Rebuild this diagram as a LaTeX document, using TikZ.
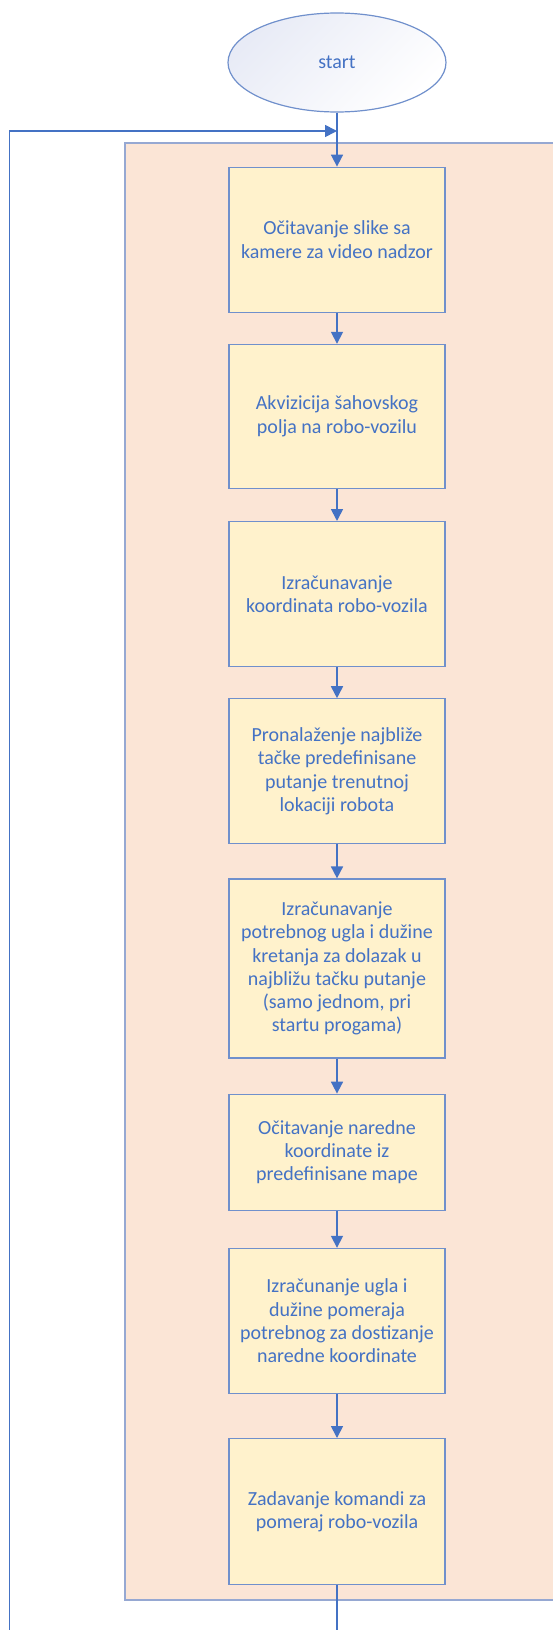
\documentclass[tikz,border=0pt]{standalone}
\usepackage{fontspec}
\setmainfont{Carlito}
\definecolor{flowblue}{RGB}{68,114,196}
\definecolor{boxedge}{RGB}{112,144,204}
\definecolor{loopedge}{RGB}{150,168,210}
\definecolor{softyellow}{RGB}{255,242,204}
\definecolor{softpeach}{RGB}{251,229,214}
\definecolor{paleviolet}{RGB}{232,235,246}
\usetikzlibrary{arrows.meta,positioning,shapes.geometric}

\begin{document}
\begin{tikzpicture}[x=1pt, y=-1pt,
    stepbox/.style={draw=boxedge, line width=1.2pt, fill=softyellow, text=flowblue,
      minimum width=216pt, align=center, inner sep=0pt, font=\fontsize{20}{23.3}\selectfont},
    flow/.style={draw=flowblue, line width=1.7pt, -{Triangle[length=12pt,width=12pt]}}]
  \useasboundingbox (0,0) rectangle (553,1630);
  \fill[softpeach, draw=loopedge, line width=1.2pt] (125,143) rectangle (620,1600);
  \node[ellipse, draw=boxedge, line width=1.2pt, top color=paleviolet, bottom color=white,
        shading angle=45, minimum width=218pt, minimum height=99pt, inner sep=0pt,
        text=flowblue, font=\fontsize{20}{23.3}\selectfont] (start) at (337,62.5) {start};
  \node[stepbox, minimum height=145pt, below=54pt of start] (b1) {Očitavanje slike sa\\kamere za video nadzor};
  \node[stepbox, minimum height=144pt, below=31pt of b1] (b2) {Akvizicija šahovskog\\polja na robo-vozilu};
  \node[stepbox, minimum height=145pt, below=32pt of b2] (b3) {Izračunavanje\\koordinata robo-vozila};
  \node[stepbox, minimum height=145pt, below=31pt of b3] (b4) {Pronalaženje najbliže\\tačke predefinisane\\putanje trenutnoj\\lokaciji robota};
  \node[stepbox, minimum height=179pt, below=34pt of b4] (b5) {Izračunavanje\\potrebnog ugla i dužine\\kretanja za dolazak u\\najbližu tačku putanje\\(samo jednom, pri\\startu progama)};
  \node[stepbox, minimum height=116pt, below=35pt of b5] (b6) {Očitavanje naredne\\koordinate iz\\predefinisane mape};
  \node[stepbox, minimum height=145pt, below=37pt of b6] (b7) {Izračunanje ugla i\\dužine pomeraja\\potrebnog za dostizanje\\naredne koordinate};
  \node[stepbox, minimum height=146pt, below=44pt of b7] (b8) {Zadavanje komandi za\\pomeraj robo-vozila};
  \coordinate (loopin) at (337,131);
  \coordinate (loopdown) at (337,1680);
  \coordinate (loopcorner) at (9.5,1680);
  \draw[flow] (start) -- (b1);
  \foreach \a/\b in {b1/b2,b2/b3,b3/b4,b4/b5,b5/b6,b6/b7,b7/b8}
    \draw[flow] (\a) -- (\b);
  \draw[flow] (b8.south) -- (loopdown) -- (loopcorner) |- (loopin);
\end{tikzpicture}
\end{document}
